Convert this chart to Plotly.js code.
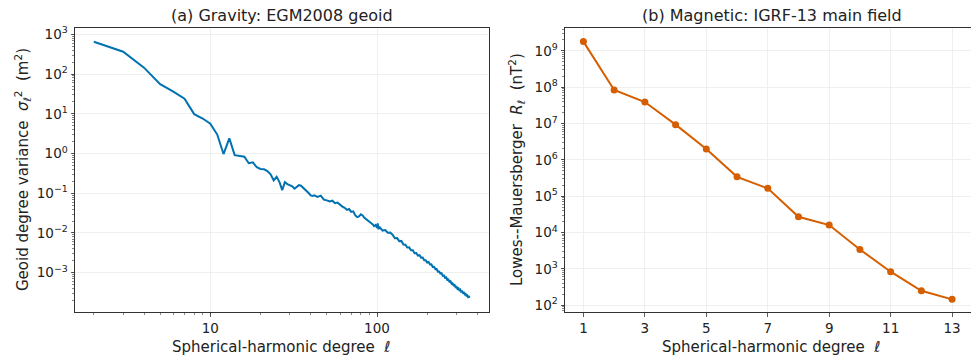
<!DOCTYPE html>
<html>
<head>
<meta charset="utf-8">
<script src="https://cdn.plot.ly/plotly-3.0.1.min.js"></script>
<style>html,body{margin:0;padding:0;background:#fff}#chart{width:971px;height:361px}</style>
</head>
<body>
<div id="chart"></div>
<script>
// (a) EGM2008 geoid degree variances
const gravDegree = [2,3,4,5,6,7,8,9,10,11,12,13,14,15,16,17,18,19,20,21,22,23,24,25,26,27,28,29,30,31,32,33,34,35,36,37,38,39,40,41,
  42,44,46,48,50,52,54,56,58,60,62,64,66,68,70,72,74,76,78,80,82,84,86,88,90,92,94,96,98,100,101,102,
  104,108,112,116,120,124,128,132,136,140,144,148,152,156,160,164,168,172,176,180,184,188,192,196,200,
  204,208,212,216,220,224,228,232,236,240,244,248,252,256,260,264,268,272,276,280,284,288,292,296,300,
  304,308,312,316,320,324,328,332,336,340,344,348,352,356,360];
const gravVariance = [650,365,145,56,36,24,9.8,7.6,5.6,3.0,0.97,2.4,0.91,0.86,0.83,0.57,0.6,0.45,0.41,0.40,0.36,0.30,0.21,0.26,0.19,0.12,0.19,0.17,0.16,0.15,0.13,0.145,0.16,0.155,0.14,0.125,0.115,0.10,0.088,0.085,
  0.089,0.081,0.087,0.069,0.066,0.062,0.065,0.056,0.058,0.050,0.046,0.043,0.038,0.040,0.034,0.035,0.028,0.025,0.026,0.0295,0.0275,0.024,0.022,0.020,0.019,0.0178,0.0166,0.0148,0.0158,0.0135,0.0175,0.0125,
  0.0139,0.0115,0.0118,0.0101,0.0102,0.0090,0.00735,0.0074,0.00621,0.0063,0.00513,0.00508,0.00431,0.00434,0.00368,0.00369,0.0031,0.00313,0.00269,0.00275,0.00237,0.0024,0.00205,0.00206,0.00181,
  0.00186,0.00161,0.00163,0.00139,0.0014,0.00123,0.00124,0.00106,0.00107,0.00095,0.00097,0.000832,0.00085,0.000746,0.000764,0.000658,0.000673,0.000594,0.00061,0.000527,0.000542,0.00048,0.000493,0.000433,0.000442,
  0.00039,0.000406,0.000362,0.000377,0.00033,0.000339,0.000308,0.000316,0.000284,0.000292,0.000262,0.000268,0.000244,0.000251,0.000234];

// (b) IGRF-13 Lowes-Mauersberger spectrum
const magDegree = [1,2,3,4,5,6,7,8,9,10,11,12,13];
const magPower = [1.8e9,8.4e7,3.9e7,9.3e6,2.0e6,3.4e5,1.64e5,2.7e4,1.6e4,3.4e3,830,248,144];

// tick labels
const gravYTickVals = [1e-3,1e-2,1e-1,1,10,100,1000];
const gravYTickText = ['10<sup>−3</sup>','10<sup>−2</sup>','10<sup>−1</sup>','10<sup>0</sup>','10<sup>1</sup>','10<sup>2</sup>','10<sup>3</sup>'];
const magYTickVals = [1e2,1e3,1e4,1e5,1e6,1e7,1e8,1e9];
const magYTickText = ['10<sup>2</sup>','10<sup>3</sup>','10<sup>4</sup>','10<sup>5</sup>','10<sup>6</sup>','10<sup>7</sup>','10<sup>8</sup>','10<sup>9</sup>'];
const magXTickVals = [1,3,5,7,9,11,13];

const W = 971, H = 361;
const FONT = 'DejaVu Sans, sans-serif';
const TXT = '#222';
const px = v => v / W;
const py = v => 1 - v / H;

const axisCommon = {
  showline: true, linecolor: '#333', linewidth: 1, mirror: true,
  ticks: 'outside', ticklen: 3.5, tickwidth: 0.8, tickcolor: '#333',
  gridcolor: '#ebebeb', gridwidth: 0.8, zeroline: false,
  tickfont: {family: FONT, size: 13.5, color: TXT}
};
const minorLog = {ticks: 'outside', ticklen: 2, tickwidth: 0.6, tickcolor: '#333', showgrid: false, dtick: 'D1'};

const traces = [
  {x: gravDegree, y: gravVariance, type: 'scatter', mode: 'lines', xaxis: 'x', yaxis: 'y',
   line: {color: '#0072B2', width: 2}, hoverinfo: 'skip'},
  {x: magDegree, y: magPower, type: 'scatter', mode: 'lines+markers', xaxis: 'x2', yaxis: 'y2',
   line: {color: '#D55E00', width: 2}, marker: {color: '#D55E00', size: 7}, hoverinfo: 'skip'}
];

const yDom = [1 - 312 / H, 1 - 28 / H];
const layout = {
  width: W, height: H,
  margin: {l: 0, r: 0, t: 0, b: 0},
  paper_bgcolor: '#fff', plot_bgcolor: '#fff',
  showlegend: false,
  font: {family: FONT, color: TXT},
  xaxis: Object.assign({}, axisCommon, {
    type: 'log', domain: [px(75), px(488.5)], range: [0.188, 2.669],
    tickvals: [10, 100], ticktext: ['10', '100'], minor: minorLog, anchor: 'y'
  }),
  yaxis: Object.assign({}, axisCommon, {
    type: 'log', domain: yDom, range: [-3.99, 3.16],
    tickvals: gravYTickVals, ticktext: gravYTickText, minor: minorLog, anchor: 'x'
  }),
  xaxis2: Object.assign({}, axisCommon, {
    type: 'linear', domain: [px(565), px(970.5)], range: [0.4, 13.6],
    tickvals: magXTickVals, anchor: 'y2'
  }),
  yaxis2: Object.assign({}, axisCommon, {
    type: 'log', domain: yDom, range: [1.81, 9.63],
    tickvals: magYTickVals, ticktext: magYTickText, minor: minorLog, anchor: 'x2'
  }),
  annotations: [
    {text: '(a) Gravity: EGM2008 geoid', x: px(282), y: py(15.7), xref: 'paper', yref: 'paper',
     xanchor: 'center', yanchor: 'middle', showarrow: false, font: {family: FONT, size: 16, color: TXT}},
    {text: '(b) Magnetic: IGRF-13 main field', x: px(772), y: py(15.7), xref: 'paper', yref: 'paper',
     xanchor: 'center', yanchor: 'middle', showarrow: false, font: {family: FONT, size: 16, color: TXT}},
    {text: 'Spherical-harmonic degree\u00A0\u00A0<i>ℓ</i>', x: px(281.7), y: py(346.7), xref: 'paper', yref: 'paper',
     xanchor: 'center', yanchor: 'middle', showarrow: false, font: {family: FONT, size: 15, color: TXT}},
    {text: 'Spherical-harmonic degree\u00A0\u00A0<i>ℓ</i>', x: px(771.7), y: py(346.7), xref: 'paper', yref: 'paper',
     xanchor: 'center', yanchor: 'middle', showarrow: false, font: {family: FONT, size: 15, color: TXT}},
    {text: 'Geoid degree variance\u00A0\u00A0<i>σ</i><sub><i>ℓ</i></sub><sup>2</sup>\u00A0\u00A0(m<sup>2</sup>)', x: px(23), y: py(170), xref: 'paper', yref: 'paper',
     xanchor: 'center', yanchor: 'middle', textangle: -90, showarrow: false, font: {family: FONT, size: 15, color: TXT}},
    {text: 'Lowes--Mauersberger\u00A0\u00A0<i>R</i><sub><i>ℓ</i></sub>\u00A0\u00A0(nT<sup>2</sup>)', x: px(517), y: py(170), xref: 'paper', yref: 'paper',
     xanchor: 'center', yanchor: 'middle', textangle: -90, showarrow: false, font: {family: FONT, size: 15, color: TXT}}
  ]
};

Plotly.newPlot('chart', traces, layout, {staticPlot: true, displayModeBar: false});
</script>
</body>
</html>
